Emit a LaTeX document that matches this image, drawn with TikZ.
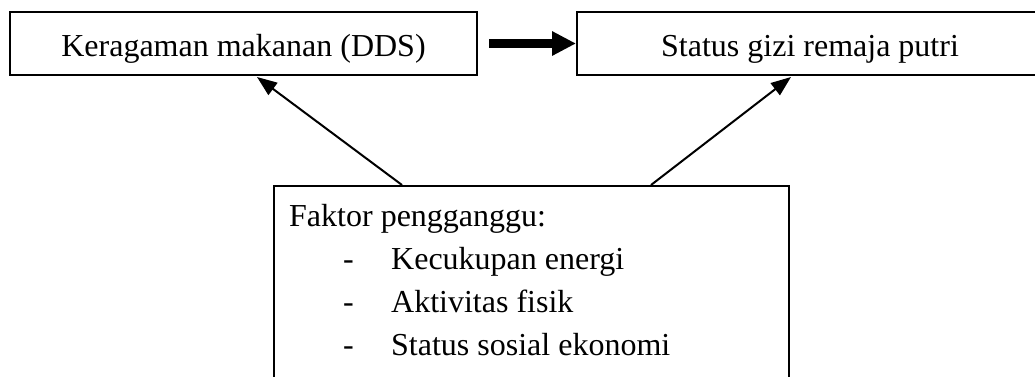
\documentclass[tikz,border=0pt]{standalone}
\usepackage{fontspec}
\setmainfont{Liberation Serif}
\usetikzlibrary{arrows.meta,calc}
\tikzset{
  box/.style={draw, line width=2pt, inner sep=0pt, font=\fontsize{32}{43}\selectfont},
  txt/.style={inner sep=0pt, font=\fontsize{32}{43}\selectfont},
  thick arrow/.style={line width=9pt, -{Triangle[length=24pt,width=23pt]}},
  thin arrow/.style={line width=2pt, -{Triangle[length=20pt,width=15pt]}}
}
\begin{document}
\begin{tikzpicture}[x=1pt,y=-1pt]
\clip (0,0) rectangle (1035,376);
\node[box, minimum width=467pt, minimum height=63pt] (kb) at (243.5,43.5) {};
\node[txt, anchor=base] (kt) at (243.5,56) {Keragaman makanan (DDS)};
\node[box, minimum width=466pt, minimum height=63pt] (sb) at (810,43.5) {};
\node[txt, anchor=base] (st) at (810,56) {Status gizi remaja putri};
\node[box, minimum width=515pt, minimum height=234pt] (fb) at (531.5,303) {};
\node[txt, anchor=base west, align=left] (ft) at (289,355) {Faktor pengganggu:\\
\hspace*{54pt}\makebox[48pt][l]{-}Kecukupan energi\\
\hspace*{54pt}\makebox[48pt][l]{-}Aktivitas fisik\\
\hspace*{54pt}\makebox[48pt][l]{-}Status sosial ekonomi};
\coordinate (a1) at ($(kb.east)+(11,0)$);
\draw[thick arrow] (a1) -- (sb.west);
\draw[thin arrow] ($(fb.north west)+(129,0)$) -- ($(kb.south west)+(248,1)$);
\draw[thin arrow] ($(fb.north west)+(378,0)$) -- ($(sb.south west)+(215,1)$);
\end{tikzpicture}
\end{document}
